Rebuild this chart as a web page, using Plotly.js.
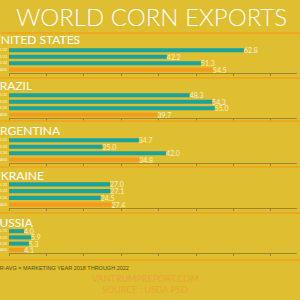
<!DOCTYPE html>
<html><head><meta charset="utf-8">
<script src="https://cdn.plot.ly/plotly-3.0.1.min.js"></script>
<style>html,body{margin:0;padding:0;background:#DFBE2F}#c{width:300px;height:300px}</style>
</head><body><div id="c"></div>
<script>
const years = ['2021/22','2022/23','2023/24','5YR-AVG'];
const countries = ['UNITED STATES','BRAZIL','ARGENTINA','UKRAINE','RUSSIA'];
const us = [62.8, 42.2, 51.3, 54.5];
const brazil = [48.3, 54.3, 55.0, 39.7];
const argentina = [34.7, 25.0, 42.0, 34.8];
const ukraine = [27.0, 27.1, 24.5, 27.4];
const russia = [4.0, 5.9, 5.3, 4.1];
const series = [us, brazil, argentina, ukraine, russia];

const teal = '#1AA29E', orange = '#F39A1F', bg = '#DFBE2F';
const panels = [[47,73],[92,118],[137,163],[181,208],[228,253]];
const headerY = [40,86,130,175,222];
const sepY = [78,121,167,213,260];
const H = 300;

const data = [], layout = {
  width:300, height:300, margin:{l:0,r:0,t:0,b:0},
  paper_bgcolor:bg, plot_bgcolor:'rgba(0,0,0,0)', showlegend:false,
  font:{family:'Lato, sans-serif'},
  annotations:[], shapes:[]
};
series.forEach((vals,i)=>{
  const n = i===0 ? '' : String(i+1);
  data.push({
    type:'bar', orientation:'h', x:vals, y:years,
    xaxis:'x'+n, yaxis:'y'+n, width:0.64,
    marker:{color:years.map((_,k)=>k===3?orange:teal)},
    texttemplate:'%{x:.1f}', textposition:'outside', cliponaxis:false,
    constraintext:'none',
    textfont:{size:7, color:'#FBF1C8', family:'Lato, sans-serif'},
    hoverinfo:'none'
  });
  const [t,b] = panels[i];
  layout['xaxis'+n] = {domain:[9/H, 297/H], range:[0,77], anchor:'y'+n,
    showgrid:false, zeroline:false, showline:true, linecolor:'#9C8530', linewidth:1,
    ticks:'outside', ticklen:2, tickcolor:'#9C8530', dtick:10, tick0:0,
    showticklabels:false, fixedrange:true};
  layout['yaxis'+n] = {domain:[1-b/H, 1-t/H], anchor:'x'+n, type:'category',
    autorange:'reversed', showgrid:false, zeroline:false, showline:false, ticks:'',
    tickfont:{size:3.5, color:'#FFF8E0'}, ticklabelstandoff:1, fixedrange:true};
  layout.annotations.push({text:countries[i], xref:'paper', yref:'paper',
    x:-10/H, y:1-headerY[i]/H, xanchor:'left', yanchor:'middle', showarrow:false,
    font:{size:12, color:'#FFFFFF', family:'Lato, sans-serif'}});
  layout.shapes.push({type:'line', xref:'paper', yref:'paper', x0:0, x1:1,
    y0:1-sepY[i]/H, y1:1-sepY[i]/H, line:{color:'#F2A21E', width:1.5}});
});
layout.shapes.push({type:'line', xref:'paper', yref:'paper', x0:0, x1:1,
  y0:1-33/H, y1:1-33/H, line:{color:'#F2A21E', width:1.5}});
layout.annotations.push({text:'WORLD CORN EXPORTS', xref:'paper', yref:'paper',
  x:151/H, y:1-16/H, xanchor:'center', yanchor:'middle', showarrow:false,
  font:{size:24, color:'#FFFFFF', family:'Lato, sans-serif', weight:300}});
layout.annotations.push({text:'5YR-AVG = MARKETING YEAR 2018 THROUGH 2022', xref:'paper', yref:'paper',
  x:-9/H, y:1-268/H, xanchor:'left', yanchor:'middle', showarrow:false,
  font:{size:5.5, color:'#5E4E12', family:'Liberation Sans Narrow, Arial Narrow, sans-serif'}});
layout.annotations.push({text:'VANTRUMPREPORT.COM', xref:'paper', yref:'paper',
  x:145/H, y:1-278/H, xanchor:'center', yanchor:'middle', showarrow:false,
  font:{size:9, color:'#EBA43C', family:'Lato, sans-serif'}});
layout.annotations.push({text:'SOURCE : USDA PSD', xref:'paper', yref:'paper',
  x:145/H, y:1-289/H, xanchor:'center', yanchor:'middle', showarrow:false,
  font:{size:9, color:'#EBA43C', family:'Lato, sans-serif'}});
Plotly.newPlot('c', data, layout, {displayModeBar:false, staticPlot:true});
</script></body></html>
